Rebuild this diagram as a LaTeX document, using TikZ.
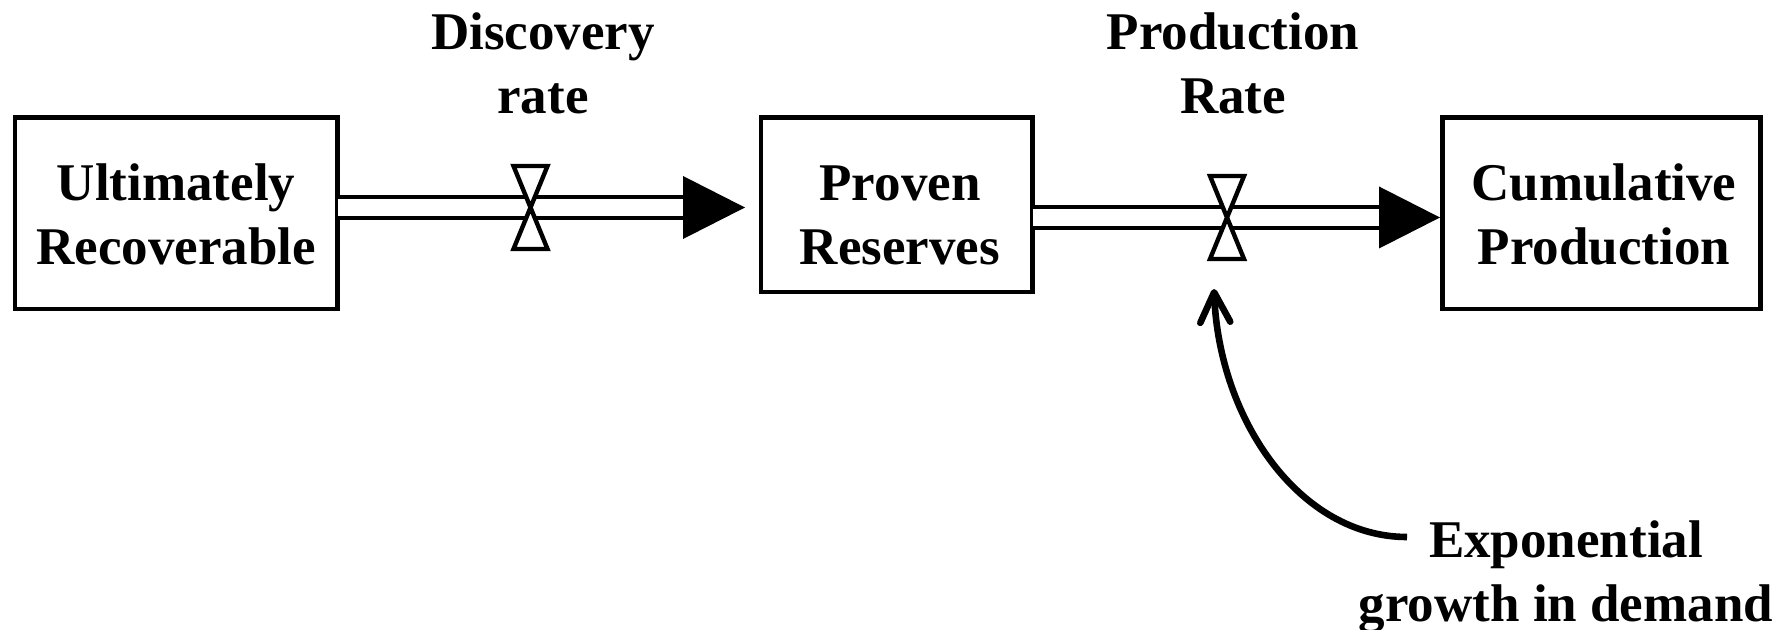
\documentclass[tikz,border=0pt]{standalone}
\usepackage{fontspec}
\setmainfont{Liberation Serif}
\usetikzlibrary{arrows.meta}
% two centred lines with struts, so every label has the same box height
\newcommand\twolines[2]{\strut#1\\\strut#2}
\begin{document}
\begin{tikzpicture}[x=0.5pt,y=-0.5pt,
  stock/.style={draw, line width=2.4pt, inner sep=0pt, outer sep=0pt},
  txt/.style={font=\bfseries\fontsize{26.5}{31.75}\selectfont, align=center, inner sep=0pt},
  pipe/.style={line width=2.4pt, double distance=8.1pt},
  head/.style={fill=black},
  valve/.pic={\filldraw[fill=white, line width=2.2pt, line join=miter]
      (-17,-41.5) -- (17,-41.5) -- (0,0) -- (17,41.5) -- (-17,41.5) -- (0,0) -- cycle;},
  infl/.style={line width=3.3pt, -{Straight Barb[length=15pt, width=15pt, round]}}]
\useasboundingbox (0,0) rectangle (1780,630);

% stocks
\node[stock, minimum width=161.25pt, minimum height=95.75pt] (ur)  at (176.25,213.25) {};
\node[stock, minimum width=135.75pt, minimum height=87.25pt] (prv) at (896.75,204.75) {};
\node[stock, minimum width=159pt,    minimum height=95.75pt] (cum) at (1601.5,213.25) {};

\node[txt] (urt)  at (176,220)  {\twolines{Ultimately}{Recoverable}};
\node[txt] (prvt) at (900,220)  {\twolines{Proven}{Reserves}};
\node[txt] (cumt) at (1604,220) {\twolines{Cumulative}{Production}};

% flow 1: discovery
\coordinate (a1) at (683,207.5);
\draw[pipe] (ur.east |- a1) -- (a1);
\fill[head] (a1) ++(0,-31.5) -- ++(62,31.5) -- ++(-62,31.5) -- cycle;
\pic at (530.5,207.5) {valve};
\node[txt] (dr) at (543,69) {\twolines{Discovery}{rate}};

% flow 2: production
\coordinate (a2) at (1379,217.5);
\draw[pipe] (prv.east |- a2) -- (a2);
\fill[head] (a2) ++(0,-31) -- ++(61,31) -- ++(-61,31) -- cycle;
\pic at (1227,217.5) {valve};
\node[txt] (pr) at (1233,69) {\twolines{Production}{Rate}};

% demand driving the production rate
\node[txt] (dem) at (1566,577) {\twolines{Exponential}{growth in demand}};
\coordinate (dm) at (1407,537);
\coordinate (pin) at (1214,289);
\draw[infl] (dm) .. controls (1300,537) and (1219,420) .. (pin);
\end{tikzpicture}
\end{document}
